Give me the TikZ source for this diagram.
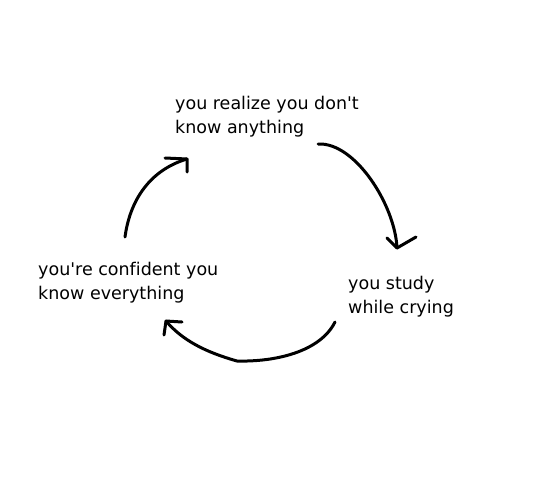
\documentclass[tikz,border=0pt]{standalone}
\usepackage{fontspec}
\setmainfont{DejaVu Sans}[Ligatures=NoCommon]
\begin{document}
\begin{tikzpicture}[x=1pt,y=-1pt,
  lbl/.style={anchor=west,align=left,inner sep=0pt,font=\fontsize{17.5}{24}\selectfont},
  stroke/.style={line width=3pt,line cap=round,line join=round,black}]
\useasboundingbox (0,0) rectangle (534,500);
\node[lbl] (top) at (175,117) {you realize you don\textquotesingle t\\know anything};
\node[lbl] (right) at (348,297) {you study\\while crying};
\node[lbl] (left) at (38,283) {you\textquotesingle re confident you\\know everything};
% arrow 1
\coordinate (a1s) at (125,237);
\coordinate (a1e) at (187,159);
\draw[stroke] (a1s) .. controls (130,200) and (150,170) .. (a1e);
\draw[stroke] (165,158) -- (a1e) -- (187,172);
% arrow 2
\coordinate (a2s) at (318,144);
\coordinate (a2e) at (397,248);
\draw[stroke] (a2s) .. controls (355,142) and (395,205) .. (a2e);
\draw[stroke] (387,238) -- (a2e) -- (416,237);
% arrow 3
\coordinate (a3s) at (335,322);
\coordinate (a3e) at (166,321);
\draw[stroke] (a3s) .. controls (320,352) and (275,362) .. (237,361) .. controls (205,352) and (182,340) .. (a3e);
\draw[stroke] (164,335) -- (a3e) -- (182,322);
\end{tikzpicture}
\end{document}
